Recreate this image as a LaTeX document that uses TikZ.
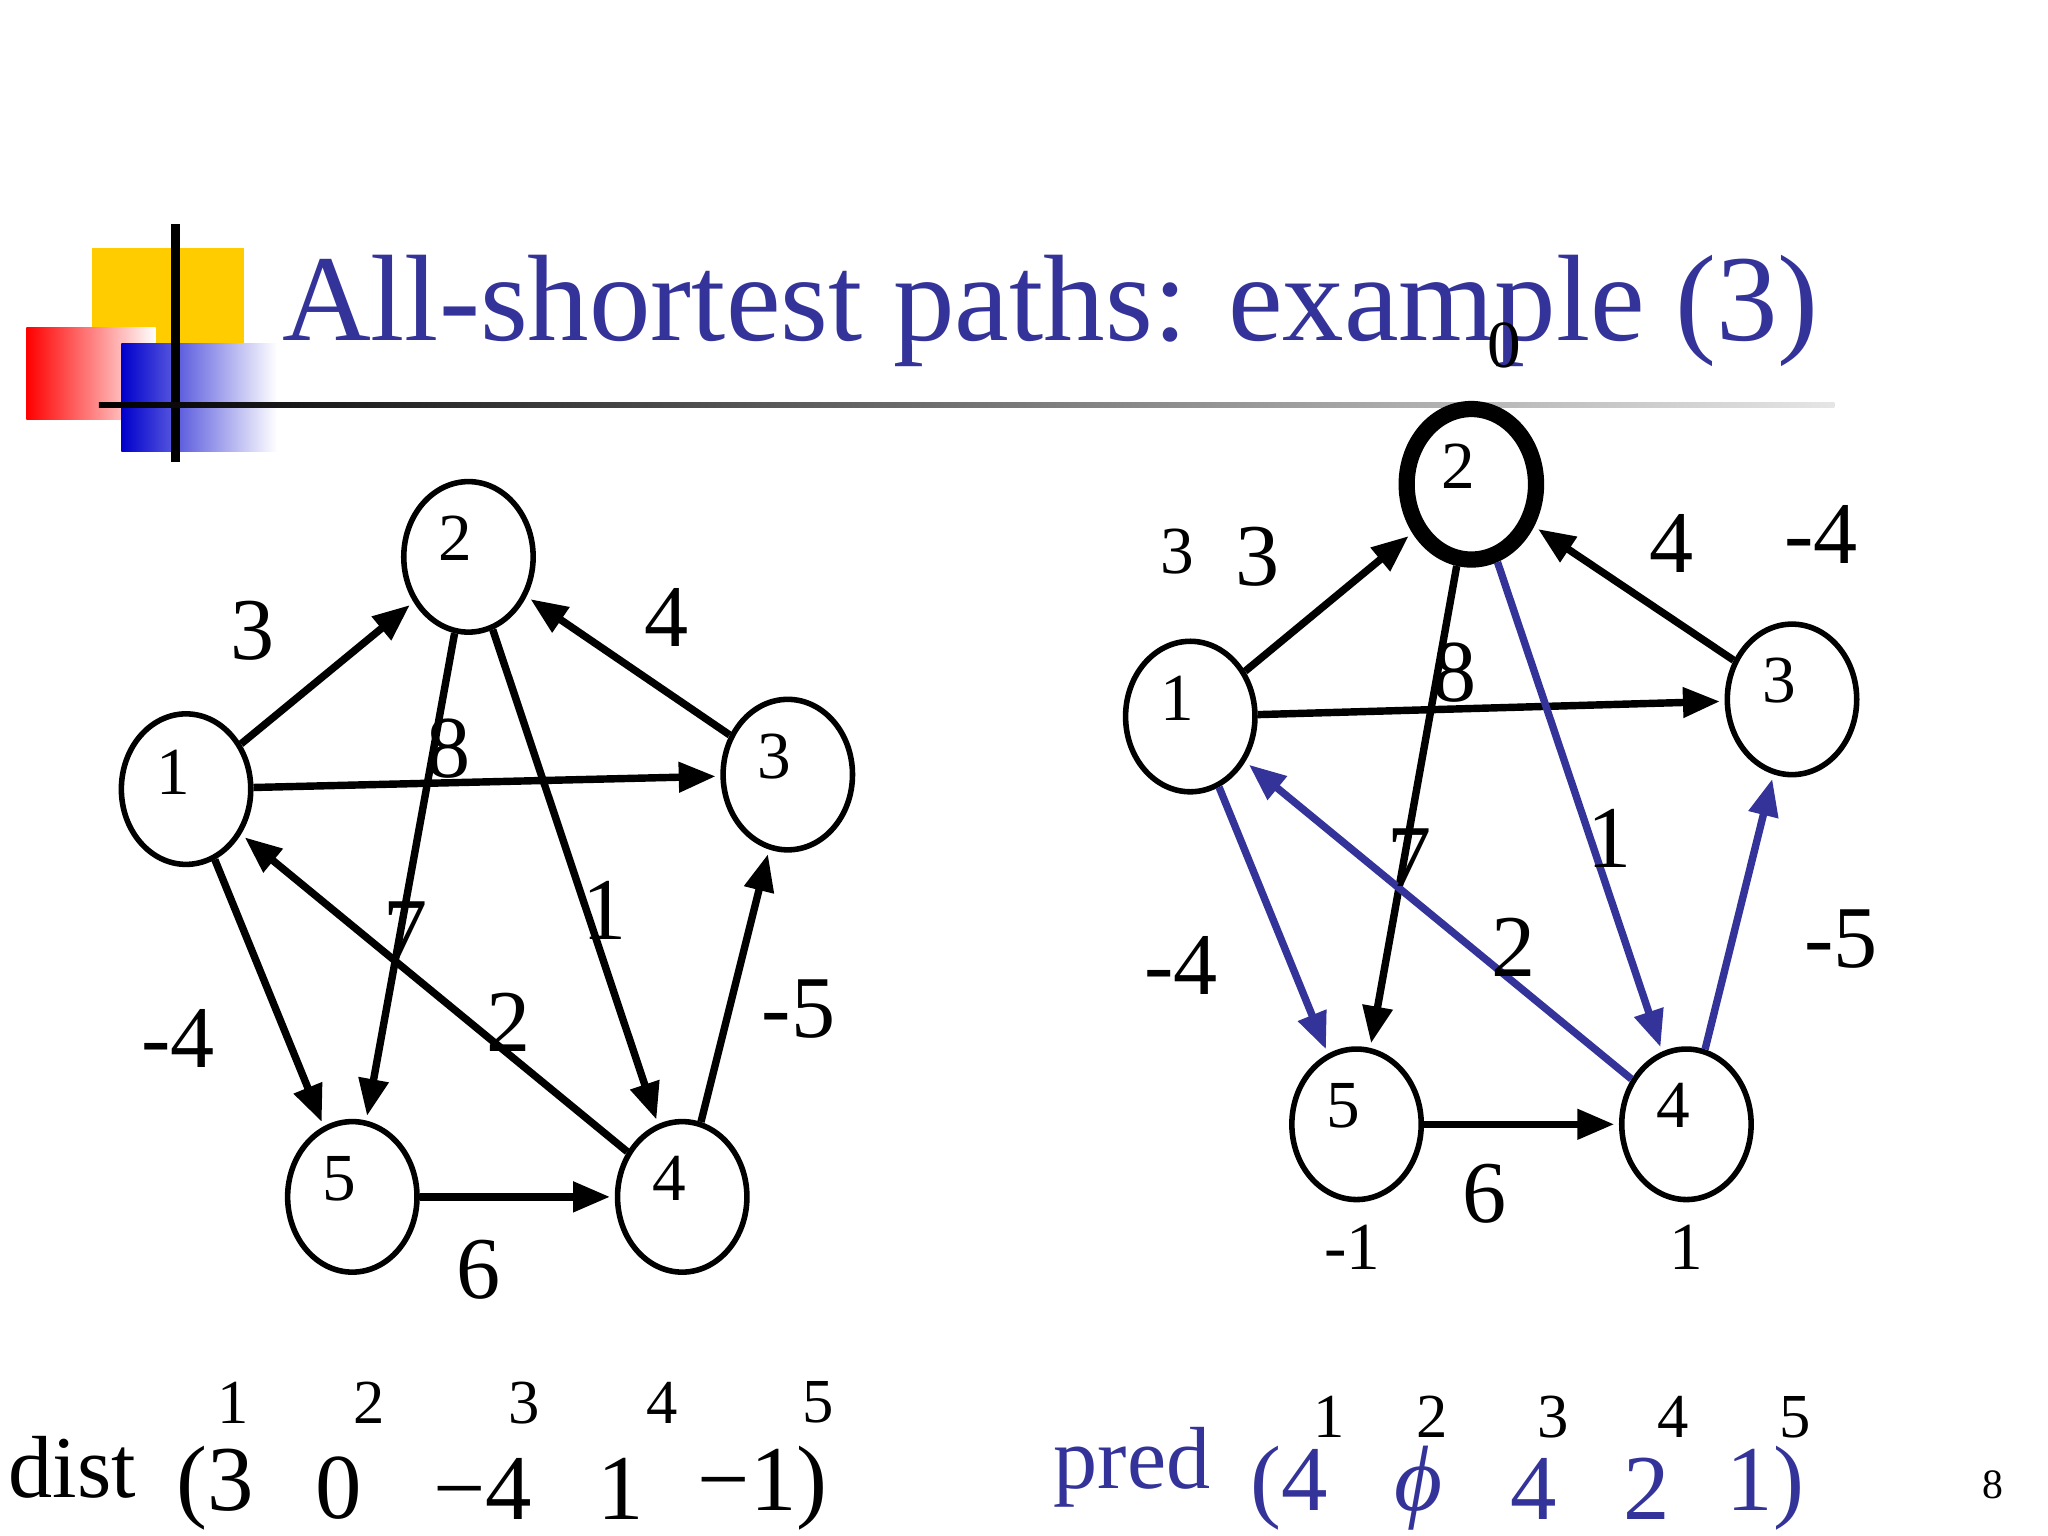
\documentclass[tikz,border=0pt]{standalone}
\usepackage{fontspec}
\setmainfont{Liberation Serif}
\usetikzlibrary{shapes.geometric,arrows.meta}
\definecolor{tblue}{RGB}{51,51,153}
\definecolor{gold}{RGB}{255,204,0}
\begin{document}
\begin{tikzpicture}[x=0.01cm,y=-0.01cm,
  vx/.style={draw,line width=1.2pt,ellipse,minimum width=0.98cm,minimum height=1.14cm,inner sep=0pt},
  vxb/.style={vx,line width=3.5pt},
  ed/.style={line width=1.6pt,-{Triangle[length=0.28cm,width=0.22cm]},shorten >=1pt},
  be/.style={ed,tblue},
  nl/.style={font=\fontsize{14.5}{14.5}\selectfont},
  el/.style={font=\fontsize{19}{19}\selectfont},
  ix/.style={font=\fontsize{13.5}{13.5}\selectfont},
  bv/.style={font=\fontsize{20}{20}\selectfont}]
\useasboundingbox (0,0) rectangle (1552,1164);
% logo
\fill[gold] (70,188) rectangle (185,260);
\shade[left color=red, right color=white] (20,248) rectangle (118,318);
\shade[left color=blue!80!black, right color=white] (92,260) rectangle (210,342);
\fill[gold] (118,248) rectangle (133,260);
\draw[line width=2pt] (133,170) -- (133,350);
\shade[left color=black,right color=gray!20] (75,305) rectangle (1390,309);
\node[tblue,anchor=base west,inner sep=0,font=\fontsize{26.5}{26.5}\selectfont] (title) at (213,258) {All-shortest paths: example (3)};
% left graph
\node[vx] (a1) at (141,598) {}; \node[nl] at (131,585) {1};
\node[vx] (a2) at (355,422) {}; \node[nl] at (345,408) {2};
\node[vx] (a3) at (597,587) {}; \node[nl] at (587,573) {3};
\node[vx] (a4) at (517,907) {}; \node[nl] at (507,893) {4};
\node[vx] (a5) at (267,907) {}; \node[nl] at (257,893) {5};
\draw[ed] (a1) -- (a2); \draw[ed] (a1) -- (a3); \draw[ed] (a1) -- (a5);
\draw[ed] (a2) -- (a5); \draw[ed] (a2) -- (a4); \draw[ed] (a3) -- (a2);
\draw[ed] (a4) -- (a1); \draw[ed] (a4) -- (a3); \draw[ed] (a5) -- (a4);
\foreach \t/\x/\y in {3/191/478,4/505/468,8/340/567,7/307/705,1/458/690,2/385/775,-4/135/787,-5/605/765,6/363/962}
  \node[el] at (\x,\y) {\t};
% right graph
\node[vx] (b1) at (902,543) {}; \node[nl] at (892,529) {1};
\node[vxb] (b2) at (1115,367) {}; \node[nl] at (1105,353) {2};
\node[vx] (b3) at (1358,530) {}; \node[nl] at (1348,516) {3};
\node[vx] (b4) at (1278,852) {}; \node[nl] at (1268,838) {4};
\node[vx] (b5) at (1028,852) {}; \node[nl] at (1018,838) {5};
\draw[ed] (b1) -- (b2); \draw[ed] (b1) -- (b3); \draw[be] (b1) -- (b5);
\draw[ed] (b2) -- (b5); \draw[be] (b2) -- (b4); \draw[ed] (b3) -- (b2);
\draw[be] (b4) -- (b1); \draw[be] (b4) -- (b3); \draw[ed] (b5) -- (b4);
\foreach \t/\x/\y in {3/953/422,4/1267/412,-4/1380/405,8/1102/510,1/1220/635,7/1068/650,2/1147/718,-4/895/732,-5/1395/712,6/1125/905}
  \node[el] at (\x,\y) {\t};
\foreach \t/\x/\y in {3/892/418,-1/1025/945,1/1278/945,0/1140/262}
  \node[nl] at (\x,\y) {\t};
% dist
\node[el] at (55,1112) {dist};
\foreach \t/\x in {1/177,2/280,3/397,4/502,5/620} \node[ix] at (\x,1063) {\t};
\node[bv] at (163,1128) {(3};
\node[bv] at (257,1128) {0};
\node[bv] at (366,1128) {−4};
\node[bv] at (470,1128) {1};
\node[bv] at (578,1128) {−1)};
% pred
\node[el,tblue] at (858,1112) {pred};
\foreach \t/\x in {1/1007,2/1085,3/1177,4/1268,5/1360} \node[ix] at (\x,1074) {\t};
\node[bv,tblue] at (977,1128) {(4};
\node[bv,tblue] at (1075,1128) {\itshape ϕ};
\node[bv,tblue] at (1162,1128) {4};
\node[bv,tblue] at (1248,1128) {2};
\node[bv,tblue] at (1338,1128) {1)};
\node[font=\fontsize{9}{9}\selectfont] at (1510,1125) {8};
\end{tikzpicture}
\end{document}
